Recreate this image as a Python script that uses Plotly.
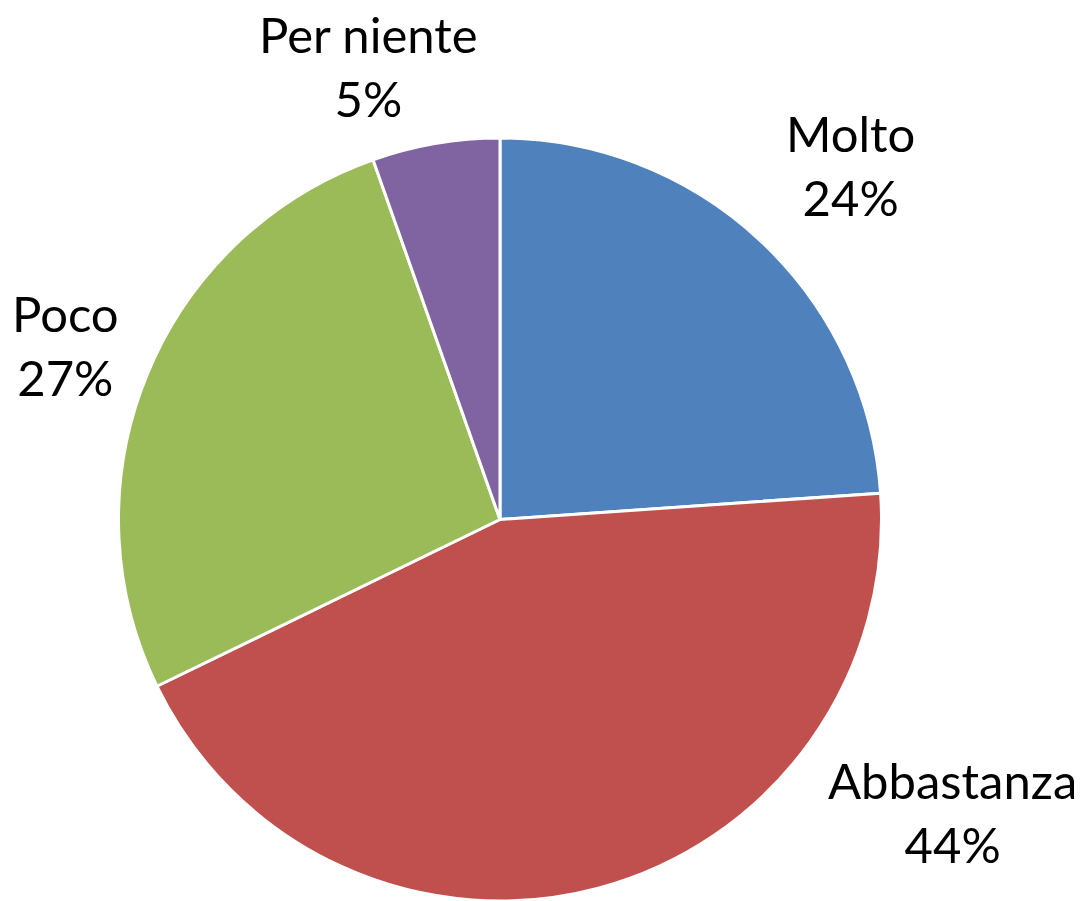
import plotly.graph_objects as go

labels = ["Molto", "Abbastanza", "Poco", "Per niente"]
values = [23.9, 43.9, 26.8, 5.4]
percent_labels = ["24%", "44%", "27%", "5%"]
colors = ["#4F81BD", "#C0504D", "#9BBB59", "#8064A2"]

# The page body has an 8px default margin, so the figure is sized to fit
# inside the 1082x901 window.
W, H = 1074, 893

fig = go.Figure(go.Pie(
    labels=labels,
    values=values,
    sort=False,
    direction="clockwise",
    rotation=0,
    marker=dict(colors=colors, line=dict(color="white", width=3)),
    textinfo="none",
    showlegend=False,
    hoverinfo="label+percent",
    domain=dict(x=[0.1029, 0.8133], y=[0.0, 0.8544]),
))

# data-label placement (paper coordinates), Excel-style outside labels
label_pos = {
    "Molto": (0.7840, 0.8242),
    "Abbastanza": (0.8790, 0.0997),
    "Poco": (0.0540, 0.6226),
    "Per niente": (0.3352, 0.9350),
}

for lab, pct in zip(labels, percent_labels):
    x, y = label_pos[lab]
    fig.add_annotation(
        x=x, y=y, xref="paper", yref="paper",
        text=f"{lab}<br>{pct}",
        showarrow=False,
        xanchor="center", yanchor="middle", align="center",
        borderpad=0,
        font=dict(family="Lato", size=49, color="black"),
    )

fig.update_layout(
    width=W, height=H,
    margin=dict(l=0, r=0, t=0, b=0),
    paper_bgcolor="white",
    plot_bgcolor="white",
)

fig.write_html("out.html")
